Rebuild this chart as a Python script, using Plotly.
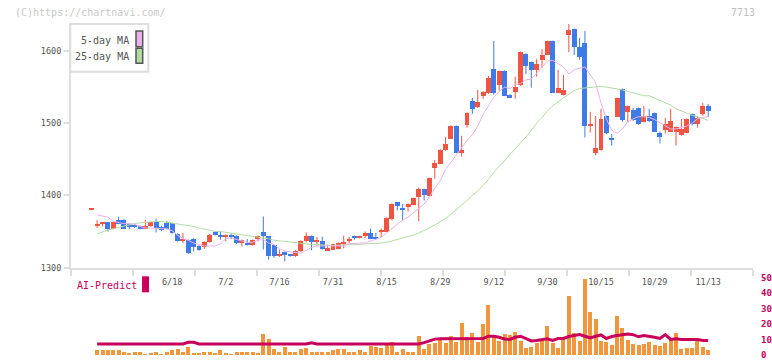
import plotly.graph_objects as go
import numpy as np

# ---------------- data ----------------
tick_labels = ['6/18', '7/2', '7/16', '7/31', '8/15', '8/29', '9/12', '9/30', '10/15', '10/29', '11/13']
tick_index = [15, 25, 35, 45, 55, 65, 75, 85, 95, 105, 115]
price_ticks = [1300, 1400, 1500, 1600]
volume_ticks = [0, 10, 20, 30, 40, 50]

open_ = [1381, 1358, 1361, 1362.6, 1354, 1366.4, 1366.4, 1360.4, 1359.5, 1358,
         1354, 1358, 1363.6, 1356.7, 1361.3, 1361.3, 1347, 1337, 1338.7, 1340,
         1330.4, 1328, 1335, 1348.8, 1345.6, 1342, 1345, 1344, 1333.6, 1333.6,
         1330.8, 1340, 1350, 1343.3, 1330.8, 1316.6, 1321.2, 1318.4, 1315.6, 1322.5,
         1337.3, 1344.2, 1336, 1337.3, 1324, 1324.9, 1326.3, 1333.3, 1337, 1344.2,
         1341, 1343.3, 1348, 1342.4, 1348.8, 1349.8, 1367.3, 1390.3, 1382.5, 1383.4,
         1387, 1397.2, 1408.8, 1399.5, 1437.8, 1443.8, 1463.1, 1478.4, 1496.3, 1459,
         1497.7, 1530.9, 1522.6, 1537.8, 1542, 1575, 1553, 1572.4, 1539.2, 1543.8,
         1553.4, 1596.3, 1584.8, 1574.2, 1588, 1595, 1613.8, 1542.4, 1538.8, 1622.2,
         1630.4, 1606, 1611, 1496.8, 1459.4, 1463.4, 1510, 1478, 1509, 1547.5,
         1515.7, 1518.4, 1521.2, 1501.8, 1510.1, 1514.3, 1486.6, 1491.2, 1488.5, 1488.5,
         1483, 1487, 1513, 1499.1, 1513, 1524]
high = [1381, 1366, 1362.5, 1363, 1363, 1370.5, 1367, 1361.5, 1360, 1358.5,
        1366, 1363, 1367.7, 1358, 1364.6, 1362, 1347.5, 1348, 1339, 1340.5,
        1331, 1336.5, 1346.5, 1350, 1350, 1346, 1347.5, 1344.5, 1339, 1339.7,
        1338.8, 1344.5, 1371, 1343.5, 1331, 1325, 1321.5, 1318.8, 1324, 1337.8,
        1348.8, 1344.6, 1342.4, 1342.8, 1331.8, 1333.2, 1335, 1344.2, 1342.4, 1344.5,
        1344.6, 1350.2, 1354, 1348, 1354, 1369.5, 1389, 1390.8, 1388, 1389,
        1397, 1411, 1409.3, 1424.5, 1449, 1464.5, 1481, 1496.8, 1496.8, 1482.5,
        1514.8, 1535, 1546, 1544, 1565.4, 1613.8, 1573, 1573, 1540, 1564.5,
        1599, 1596.8, 1585.3, 1589, 1602.4, 1614.3, 1614.3, 1573.8, 1566.8, 1637.3,
        1630.9, 1618, 1627.7, 1515.7, 1510, 1519.8, 1510.5, 1485, 1535.5, 1548,
        1524.5, 1521.2, 1521.7, 1524, 1519.8, 1514.8, 1488.5, 1507.4, 1519.8, 1495.4,
        1506, 1506.5, 1513.5, 1510.1, 1528.1, 1526.7]
low = [1381, 1355, 1357, 1350, 1353, 1360, 1353.5, 1353.5, 1355, 1353,
       1353.5, 1356.5, 1348.8, 1350.5, 1352.5, 1347, 1336, 1334, 1319, 1322.5,
       1323.5, 1325.8, 1334.5, 1344.5, 1338.7, 1336.4, 1339.5, 1333, 1329.5, 1330.5,
       1330.5, 1336.4, 1325, 1311, 1313.4, 1314.8, 1308.7, 1315, 1315, 1322,
       1335, 1324, 1330.4, 1324.9, 1323.8, 1324.5, 1326, 1326.7, 1333.6, 1338.7,
       1340.5, 1341, 1339.5, 1338.7, 1342.4, 1349.5, 1365.4, 1379.2, 1365.4, 1377.8,
       1386.5, 1364, 1393, 1399, 1423, 1443, 1461.8, 1478, 1458.5, 1453.9,
       1493.6, 1513, 1521, 1533.7, 1540.6, 1539.6, 1544.7, 1537.7, 1535, 1534,
       1551.6, 1568.2, 1549.3, 1564.5, 1576.9, 1594.5, 1542, 1542, 1538.3, 1598.6,
       1594.5, 1587.6, 1480.2, 1487, 1455.3, 1462, 1485, 1469, 1508.5, 1501.8,
       1501, 1503.2, 1497.7, 1501.3, 1501.8, 1488, 1471.9, 1485.7, 1488, 1469.1,
       1482.5, 1486.5, 1496.7, 1494, 1510.1, 1508.8]
close = [1381, 1358.5, 1362.5, 1354, 1362.6, 1361, 1354, 1355.7, 1355.7, 1353.5,
         1358, 1362.6, 1354.4, 1351.6, 1353.5, 1347.4, 1336.4, 1337.5, 1320.3, 1328,
         1324, 1336, 1345.6, 1345.2, 1342, 1345.6, 1342, 1333.6, 1338.7, 1330.8,
         1338.3, 1344, 1343.3, 1315.6, 1316.6, 1319.4, 1317, 1315.6, 1323.5, 1337.3,
         1344.2, 1335, 1336.5, 1326.3, 1326.7, 1332.8, 1334, 1333.8, 1337.5, 1340.5,
         1344.2, 1348, 1340, 1339.7, 1351.6, 1369, 1388.5, 1384.8, 1381, 1388.5,
         1396.4, 1408.8, 1400.9, 1424, 1444.7, 1463.1, 1471.4, 1496.3, 1459, 1463.1,
         1514.3, 1519.8, 1529.5, 1543.5, 1562.7, 1542, 1572.4, 1538.2, 1535.5, 1550.7,
         1598.6, 1579.3, 1574.2, 1582.5, 1595, 1613.8, 1542.4, 1548.8, 1546, 1629.1,
         1606, 1591.7, 1496.3, 1499.5, 1465, 1506, 1487, 1477.4, 1535, 1504.6,
         1524, 1504.6, 1499.1, 1510.1, 1503.2, 1488.5, 1480.2, 1499.1, 1503.2, 1494.9,
         1492.2, 1506, 1499.1, 1507.4, 1524, 1517]

ma5 = [None, 1373, 1372, 1370, 1364, 1362, 1361, 1361, 1360, 1357,
       1355, 1355, 1354, 1354, 1354, 1351, 1345, 1340, 1338, 1334,
       1332, 1330, 1330, 1330, 1333, 1340, 1341, 1339, 1336, 1335,
       1335, 1338, 1339, 1334, 1332, 1326, 1323, 1322, 1322, 1320,
       1324, 1328, 1330, 1330, 1330, 1330, 1329, 1330, 1333, 1334,
       1334, 1334, 1337, 1340, 1342, 1348, 1354, 1359, 1366, 1370,
       1376, 1382, 1388, 1398, 1410, 1420, 1436, 1446, 1456, 1467,
       1476, 1484, 1496, 1512, 1524, 1536, 1544, 1550, 1548, 1553,
       1555, 1560, 1561, 1569, 1578, 1586, 1587, 1583, 1578, 1568,
       1574, 1576, 1578, 1567, 1556, 1528, 1506, 1490, 1486, 1492,
       1502, 1506, 1509, 1509, 1508, 1505, 1501, 1496, 1492, 1492,
       1494, 1496, 1500, 1506, 1508, 1509]
ma25 = [None, 1347, 1350, 1352, 1354, 1356, 1358, 1360, 1361, 1362,
        1363, 1363, 1364, 1364, 1363, 1362, 1361, 1360, 1359, 1357,
        1355, 1353, 1352, 1350, 1350, 1349, 1348, 1347, 1345, 1344,
        1343, 1342, 1341, 1340, 1338, 1337, 1336, 1335, 1334, 1333,
        1333, 1332, 1332, 1331, 1331, 1331, 1331, 1331, 1331, 1332,
        1332, 1333, 1333, 1334, 1334, 1335, 1337, 1338, 1340, 1342,
        1345, 1348, 1351, 1355, 1359, 1363, 1368, 1374, 1380, 1386,
        1393, 1400, 1406, 1414, 1422, 1432, 1440, 1448, 1456, 1464,
        1472, 1481, 1490, 1500, 1508, 1517, 1524, 1530, 1535, 1540,
        1545, 1548, 1549, 1550, 1551, 1551, 1550, 1549, 1548, 1546,
        1544, 1542, 1539, 1538, 1538, 1535, 1532, 1528, 1525, 1520,
        1517, 1513, 1511, 1509, 1506, 1504]

volume = [None, 3.0, 3.1, 3.6, 3.0, 3.0, 2.3, 1.1, 1.7, 1.7,
          0.5, 1.1, 2.3, 0.5, 1.7, 3.0, 4.2, 1.7, 5.5, 1.1,
          1.1, 2.3, 2.3, 1.1, 3.6, 1.1, 0.5, 1.7, 2.3, 1.7,
          1.7, 1.1, 13.6, 10.5, 4.2, 2.3, 5.5, 2.3, 1.7, 4.2,
          4.8, 1.7, 2.3, 1.7, 2.3, 3.0, 4.2, 4.2, 2.3, 1.7,
          3.0, 2.3, 6.1, 5.3, 4.8, 6.5, 8.6, 2.3, 4.2, 2.3,
          2.3, 12.4, 4.2, 7.4, 8.0, 9.9, 8.0, 12.4, 8.6, 20.6,
          11.8, 14.3, 8.6, 19.9, 32.5, 12.4, 9.2, 13.6, 13.0, 14.9,
          9.2, 4.8, 5.5, 8.0, 9.2, 18.7, 8.0, 4.8, 11.8, 38.2,
          14.3, 9.2, 49.5, 28.1, 23.7, 9.2, 8.6, 6.7, 25.6, 17.4,
          9.9, 7.4, 6.7, 7.4, 8.6, 6.7, 6.1, 8.0, 10.5, 14.3,
          4.2, 4.8, 4.8, 9.9, 5.5, 3.0]

ai_predict = [None, 7.2, 7.2, 7.2, 7.2, 7.2, 7.2, 7.2, 7.2, 7.2,
              7.2, 7.2, 7.2, 7.2, 7.2, 7.2, 7.2, 7.2, 8.2, 8.2,
              7.2, 7.2, 7.2, 7.2, 7.2, 7.2, 7.2, 7.2, 7.2, 7.2,
              7.2, 7.2, 7.2, 7.2, 7.2, 7.2, 7.2, 7.2, 7.2, 7.2,
              7.2, 8.0, 7.2, 7.2, 7.2, 7.2, 7.2, 7.2, 7.2, 7.2,
              7.2, 7.2, 7.2, 7.2, 7.2, 7.2, 7.2, 7.2, 7.2, 7.2,
              7.2, 7.2, 8.0, 9.4, 10.3, 10.5, 10.5, 10.3, 10.5, 10.7,
              10.5, 10.5, 10.7, 10.7, 12.2, 12.2, 11.5, 10.3, 10.1, 11.5,
              12.2, 10.5, 9.1, 9.4, 10.1, 10.5, 9.4, 10.7, 10.7, 12.0,
              12.6, 13.2, 12.2, 11.1, 12.2, 13.0, 10.7, 12.0, 12.6, 13.2,
              13.6, 13.2, 11.8, 12.6, 12.2, 11.5, 10.7, 13.2, 10.1, 10.5,
              10.1, 10.1, 10.1, 10.1, 9.4, 9.4]

# ---------------- styling / geometry ----------------
W, H = 772, 361
ML, MR, MT, MB = 71, 19, 24, 5.5
PW, PH = W - ML - MR, H - MT - MB
FONT = "DejaVu Sans Mono"
RED, BLUE = "#f25442", "#3f7be8"
PINK, GREEN = "#e9b3ea", "#b3dca3"
ORANGE, CRIMSON = "#f2963e", "#c8005a"
AXIS = "#dedede"


def fx(px):
    return (px - ML) / PW


def fy(py):
    return (H - MB - py) / PH


n = len(open_)
idx = list(range(n))
X_LO, X_HI = -3.88, 123.36
Y_LO = 1300
Y_HI = 1300 + (268 - MT) / 0.7233

up = [c >= o for o, c in zip(open_, close)]
body_base = [min(o, c) for o, c in zip(open_, close)]
body_h = [max(abs(c - o), 1.4) for o, c in zip(open_, close)]
body_col = [RED if u else BLUE for u in up]

fig = go.Figure()

# wicks
for flag, col in ((True, RED), (False, BLUE)):
    wx, wy = [], []
    for i in idx:
        if up[i] == flag:
            wx += [i, i, None]
            wy += [low[i], high[i], None]
    fig.add_trace(go.Scatter(x=wx, y=wy, mode="lines", line=dict(color=col, width=1),
                             hoverinfo="skip", showlegend=False))

# bodies
fig.add_trace(go.Bar(x=idx, y=body_h, base=body_base, width=0.93,
                     marker=dict(color=body_col, line=dict(width=0)), showlegend=False))

# moving averages
fig.add_trace(go.Scatter(x=idx, y=ma25, mode="lines", line=dict(color=GREEN, width=1),
                         showlegend=False))
fig.add_trace(go.Scatter(x=idx, y=ma5, mode="lines", line=dict(color=PINK, width=1),
                         showlegend=False))

# volume + AI predict
fig.add_trace(go.Bar(x=idx, y=volume, width=0.75, marker=dict(color=ORANGE, line=dict(width=0)),
                     xaxis="x", yaxis="y2", showlegend=False))
fig.add_trace(go.Scatter(x=idx, y=ai_predict, mode="lines", line=dict(color=CRIMSON, width=3),
                         xaxis="x", yaxis="y2", showlegend=False))

grid_ticks = list(np.linspace(X_LO + 0.01, X_HI - 0.01, 12))

fig.update_layout(
    template="none",
    width=W, height=H,
    margin=dict(l=ML, r=MR, t=MT, b=MB, autoexpand=False),
    paper_bgcolor="white", plot_bgcolor="white",
    showlegend=False, bargap=0,
    font=dict(family=FONT, color="#555555", size=9),
    xaxis=dict(range=[X_LO, X_HI], domain=[0, 1], anchor="y", automargin=False,
               showline=True, linecolor=AXIS, linewidth=2,
               showgrid=False, zeroline=False,
               tickmode="array", tickvals=tick_index, ticktext=tick_labels,
               ticks="outside", ticklen=5, tickcolor="rgba(0,0,0,0)",
               tickfont=dict(family=FONT, size=8.5, color="#555555"),
               minor=dict(tickmode="array", tickvals=grid_ticks, ticks="outside",
                          ticklen=6, tickwidth=2, tickcolor=AXIS, showgrid=False)),
    yaxis=dict(range=[Y_LO, Y_HI], domain=[fy(268), 1], anchor="x", automargin=False,
               showline=True, linecolor=AXIS, linewidth=2,
               showgrid=False, zeroline=False,
               tickmode="array", tickvals=price_ticks,
               ticks="outside", ticklen=5, tickwidth=2, tickcolor=AXIS,
               ticklabelstandoff=1,
               tickfont=dict(family=FONT, size=8.5, color="#555555")),
    yaxis2=dict(range=[0, 50], domain=[0, fy(278.3)], anchor="x", side="right", automargin=False,
                showline=False, showgrid=False, zeroline=False,
                tickmode="array", tickvals=volume_ticks, ticks="",
                ticklabelstandoff=7, ticklabeloverflow="allow",
                tickfont=dict(family=FONT, size=9, color=CRIMSON, weight="bold")),
)

shapes = [
    dict(type="rect", xref="paper", yref="paper", x0=fx(70.3), x1=fx(148.3), y0=fy(71.7), y1=fy(24),
         line=dict(color=AXIS, width=2), fillcolor="white", layer="above"),
    dict(type="rect", xref="paper", yref="paper", x0=fx(136), x1=fx(142.7), y0=fy(46.7), y1=fy(31),
         line=dict(color="#555555", width=1.5), fillcolor=PINK, layer="above"),
    dict(type="rect", xref="paper", yref="paper", x0=fx(136), x1=fx(142.7), y0=fy(63.3), y1=fy(48.3),
         line=dict(color="#555555", width=1.5), fillcolor=GREEN, layer="above"),
    dict(type="rect", xref="paper", yref="paper", x0=fx(142), x1=fx(149), y0=fy(292.7), y1=fy(276.7),
         line=dict(width=0), fillcolor=CRIMSON, layer="above"),
]
annotations = [
    dict(text="5-day MA", xref="paper", yref="paper", x=fx(130.5), y=fy(40.5),
         xanchor="right", yanchor="middle", showarrow=False,
         font=dict(family=FONT, size=10, color="#555555")),
    dict(text="25-day MA", xref="paper", yref="paper", x=fx(130.5), y=fy(57),
         xanchor="right", yanchor="middle", showarrow=False,
         font=dict(family=FONT, size=10, color="#555555")),
    dict(text="AI-Predict", xref="paper", yref="paper", x=fx(75), y=fy(286),
         xanchor="left", yanchor="middle", showarrow=False,
         font=dict(family=FONT, size=10, color=CRIMSON)),
    dict(text="(C)https://chartnavi.com/", xref="paper", yref="paper", x=fx(13), y=fy(12.3),
         xanchor="left", yanchor="middle", showarrow=False,
         font=dict(family=FONT, size=10, color="#c8c8c8")),
    dict(text="7713", xref="paper", yref="paper", x=fx(757), y=fy(12.3),
         xanchor="right", yanchor="middle", showarrow=False,
         font=dict(family=FONT, size=10, color="#c0c0c0")),
]
fig.update_layout(shapes=shapes, annotations=annotations)

fig.write_html("out.html", config={"displayModeBar": False},
               post_script="document.body.style.margin='0';document.body.style.overflow='hidden';")
